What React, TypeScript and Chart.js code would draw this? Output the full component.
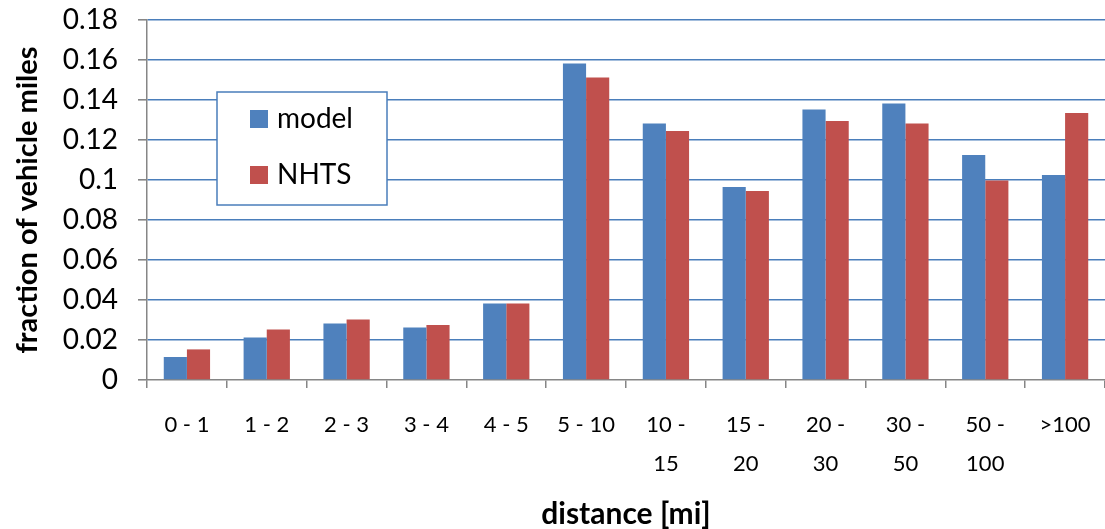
import React, { useEffect, useRef } from "react";
import { Chart, registerables } from "chart.js";

Chart.register(...registerables);

// Distance bins (multi-line where the label wraps)
const categories: (string | string[])[] = [
  "0 - 1",
  "1 - 2",
  "2 - 3",
  "3 - 4",
  "4 - 5",
  "5 - 10",
  ["10 -", "15"],
  ["15 -", "20"],
  ["20 -", "30"],
  ["30 -", "50"],
  ["50 -", "100"],
  ">100",
];

const modelValues = [0.0115, 0.0213, 0.0283, 0.0263, 0.0383, 0.1583, 0.1283, 0.0965, 0.1353, 0.1383, 0.1125, 0.1025];
const nhtsValues = [0.0153, 0.0253, 0.0303, 0.0275, 0.0383, 0.1513, 0.1245, 0.0945, 0.1295, 0.1283, 0.0997, 0.1335];

const seriesNames = ["model", "NHTS"];
const seriesColors = ["#4f81bd", "#c0504d"];

const FONT = "Lato, 'Noto Sans', sans-serif";
const GRID_BLUE = "#4a7ebb";
const AXIS_GRAY = "#868686";

// Boxed legend drawn inside the plot area
const boxedLegend = {
  id: "boxedLegend",
  afterDatasetsDraw(chart: any) {
    const { ctx, chartArea } = chart;
    const x = chartArea.left + 70;
    const y = chartArea.top + 72;
    const w = 170;
    const h = 113;
    ctx.save();
    ctx.fillStyle = "#ffffff";
    ctx.fillRect(x, y, w, h);
    ctx.strokeStyle = GRID_BLUE;
    ctx.lineWidth = 1.5;
    ctx.strokeRect(x, y, w, h);
    ctx.font = `28px ${FONT}`;
    ctx.textBaseline = "middle";
    ctx.textAlign = "left";
    chart.data.datasets.forEach((ds: any, i: number) => {
      const cy = y + 27 + i * 56;
      ctx.fillStyle = ds.backgroundColor;
      ctx.fillRect(x + 33, cy - 9, 18, 18);
      ctx.fillStyle = "#000000";
      ctx.fillText(ds.label, x + 60, cy);
    });
    ctx.restore();
  },
};

export default function App() {
  const canvasRef = useRef<HTMLCanvasElement | null>(null);

  useEffect(() => {
    if (!canvasRef.current) return;
    const chart = new Chart(canvasRef.current, {
      type: "bar",
      data: {
        labels: categories,
        datasets: [
          {
            label: seriesNames[0],
            data: modelValues,
            backgroundColor: seriesColors[0],
            categoryPercentage: 0.58,
            barPercentage: 1,
          },
          {
            label: seriesNames[1],
            data: nhtsValues,
            backgroundColor: seriesColors[1],
            categoryPercentage: 0.58,
            barPercentage: 1,
          },
        ],
      },
      options: {
        animation: false,
        responsive: false,
        layout: { padding: { top: 20, right: 0, left: 0, bottom: 0 } },
        plugins: {
          legend: { display: false },
          tooltip: { enabled: false },
        },
        scales: {
          x: {
            afterFit(scale: any) {
              scale.height = 149;
              scale.paddingLeft = 0;
              scale.paddingRight = 0;
            },
            grid: {
              display: true,
              drawOnChartArea: false,
              drawTicks: true,
              tickLength: 8,
              color: AXIS_GRAY,
              lineWidth: 1.5,
              offset: true,
            },
            border: { display: true, color: AXIS_GRAY, width: 1.5 },
            ticks: {
              color: "#000000",
              font: { family: FONT, size: 22, lineHeight: 1.8 },
              padding: 17,
              maxRotation: 0,
              autoSkip: false,
            },
            title: {
              display: true,
              text: "distance [mi]",
              color: "#000000",
              font: { family: FONT, size: 30, weight: "bold", lineHeight: 1.0 },
              padding: { top: 0, bottom: 0 },
            },
          },
          y: {
            min: 0,
            max: 0.18,
            afterFit(scale: any) {
              scale.width = 147;
              scale.paddingTop = 0;
              scale.paddingBottom = 0;
            },
            grid: {
              color: (c: any) => (c.tick && c.tick.value === 0 ? "rgba(0,0,0,0)" : GRID_BLUE),
              tickColor: AXIS_GRAY,
              lineWidth: 1.6,
              tickLength: 9,
            },
            border: { display: true, color: AXIS_GRAY, width: 1.5 },
            ticks: {
              stepSize: 0.02,
              color: "#000000",
              font: { family: FONT, size: 28 },
              padding: 20,
              callback: (v: any) => String(parseFloat(Number(v).toFixed(2))),
            },
            title: {
              display: true,
              text: "fraction of vehicle miles",
              color: "#000000",
              font: { family: FONT, size: 29, weight: "bold", lineHeight: 1.2 },
              padding: { top: 10, bottom: 0 },
            },
          },
        },
      },
      plugins: [boxedLegend],
    });
    return () => chart.destroy();
  }, []);

  return (
    <div style={{ position: "absolute", left: 0, top: 0, width: 1105, height: 529, background: "#ffffff" }}>
      <canvas ref={canvasRef} width={1105} height={529} style={{ display: "block" }} />
    </div>
  );
}
